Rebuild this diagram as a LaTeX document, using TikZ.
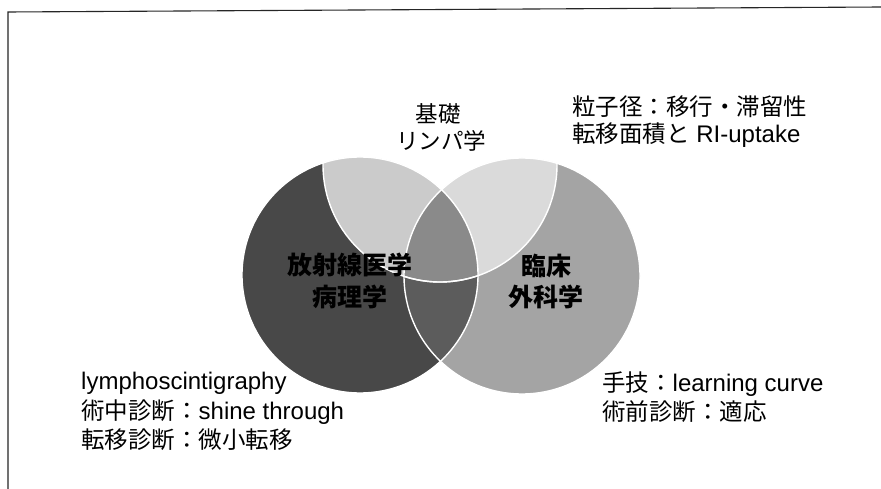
\documentclass[tikz,border=0pt]{standalone}
\usepackage{fontspec}
\setmainfont{Liberation Sans}
\newfontfamily\cjk{Noto Sans CJK JP}
\newcommand\J[1]{{\cjk\fontsize{23.5}{28}\selectfont #1}}
\definecolor{cDark}{HTML}{484848}
\definecolor{cRight}{HTML}{A4A4A4}
\definecolor{cDR}{HTML}{5C5C5C}
\definecolor{cLD}{HTML}{CBCBCB}
\definecolor{cLR}{HTML}{DADADA}
\definecolor{cLDR}{HTML}{8A8A8A}
\begin{document}
\begin{tikzpicture}[x=1pt,y=-1pt,
  ann/.style={inner sep=0pt, anchor=base west, font=\fontsize{24}{28}\selectfont},
  lbl/.style={inner sep=0pt, anchor=base, font=\cjk\bfseries\fontsize{25}{32}\selectfont},
  toplbl/.style={inner sep=0pt, anchor=base, font=\cjk\fontsize{22.5}{28}\selectfont},
  rim/.style={draw=white, line width=1.4pt}]
\useasboundingbox (0,0) rectangle (881,489);
\fill[white] (0,0) rectangle (881,489);
\draw[line width=1.1pt, black!85] (8,489) -- (8,12) -- (881,7);
\def\DarkC{(360,275) circle (118pt)}
\def\RightC{(522,276) circle (118pt)}
\def\LightC{(440,165) circle (117pt)}
% fills
\fill[cDark] \DarkC;
\fill[cRight] \RightC;
\begin{scope}\clip \RightC; \fill[cDR] \DarkC;\end{scope}
\begin{scope}\clip \LightC;
  \fill[cLD] \DarkC; \fill[cLR] \RightC;
  \clip \RightC; \fill[cLDR] \DarkC;
\end{scope}
% white rims
\draw[rim] \DarkC;
\draw[rim] \RightC;
\begin{scope}\clip \DarkC; \draw[rim] \LightC;\end{scope}
\begin{scope}\clip \RightC; \draw[rim] \LightC;\end{scope}
% circle labels
\node[lbl] (rad) at (350,275) {放射線医学};
\node[lbl] (pat) at (350,306) {病理学};
\node[lbl] (rin) at (546,276) {臨床};
\node[lbl] (gek) at (546,306) {外科学};
\node[toplbl] (kis) at (438,123) {基礎};
\node[toplbl] (lym) at (441,150) {リンパ学};
% annotations
\node[ann] (tr1) at (572,116) {\J{粒子径：移行・滞留性}};
\node[ann] (tr2) at (572,143) {\J{転移面積と} RI-uptake};
\node[ann] (bl1) at (81,389) {lymphoscintigraphy};
\node[ann] (bl2) at (81,419) {\J{術中診断：}shine through};
\node[ann] (bl3) at (81,448) {\J{転移診断：微小転移}};
\node[ann] (br1) at (602,391) {\J{手技：}learning curve};
\node[ann] (br2) at (602,420) {\J{術前診断：適応}};
\end{tikzpicture}
\end{document}
